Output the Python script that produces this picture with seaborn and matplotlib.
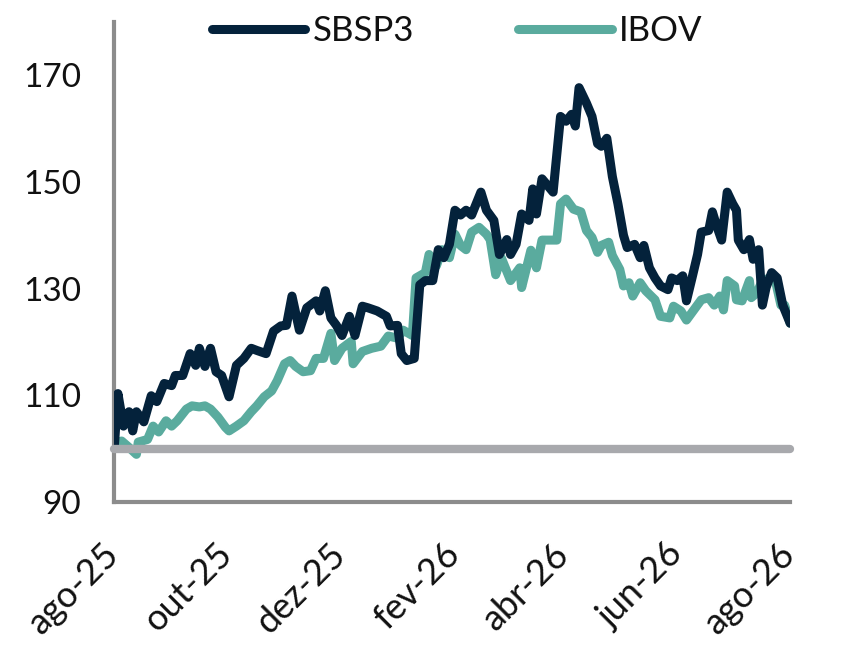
import matplotlib
matplotlib.use("Agg")
import matplotlib.pyplot as plt
from matplotlib.lines import Line2D
import pandas as pd
import seaborn as sns

# Data (base 100)

sbsp3_dates = [
    "2025-08-01", "2025-08-03", "2025-08-06", "2025-08-09", "2025-08-11", "2025-08-13",
    "2025-08-17", "2025-08-21", "2025-08-24", "2025-08-28", "2025-09-01", "2025-09-03",
    "2025-09-07", "2025-09-11", "2025-09-14", "2025-09-16", "2025-09-19", "2025-09-22",
    "2025-09-25", "2025-09-28", "2025-10-02", "2025-10-06", "2025-10-10", "2025-10-14",
    "2025-10-17", "2025-10-22", "2025-10-26", "2025-10-30", "2025-11-02", "2025-11-05",
    "2025-11-09", "2025-11-13", "2025-11-18", "2025-11-20", "2025-11-23", "2025-11-26",
    "2025-11-29", "2025-12-02", "2025-12-06", "2025-12-09", "2025-12-13", "2025-12-16",
    "2025-12-21", "2025-12-26", "2025-12-28", "2026-01-01", "2026-01-03", "2026-01-06",
    "2026-01-10", "2026-01-13", "2026-01-16", "2026-01-20", "2026-01-23", "2026-01-26",
    "2026-01-29", "2026-02-01", "2026-02-04", "2026-02-07", "2026-02-10", "2026-02-15",
    "2026-02-18", "2026-02-22", "2026-02-25", "2026-03-01", "2026-03-03", "2026-03-06",
    "2026-03-09", "2026-03-13", "2026-03-15", "2026-03-17", "2026-03-20", "2026-03-26",
    "2026-03-30", "2026-04-02", "2026-04-05", "2026-04-07", "2026-04-09", "2026-04-13",
    "2026-04-16", "2026-04-19", "2026-04-21", "2026-04-24", "2026-04-27", "2026-04-30",
    "2026-05-03", "2026-05-05", "2026-05-09", "2026-05-12", "2026-05-14", "2026-05-17",
    "2026-05-20", "2026-05-23", "2026-05-27", "2026-05-29", "2026-06-01", "2026-06-04",
    "2026-06-06", "2026-06-09", "2026-06-12", "2026-06-14", "2026-06-18", "2026-06-20",
    "2026-06-22", "2026-06-25", "2026-06-28", "2026-07-01", "2026-07-03", "2026-07-04",
    "2026-07-07", "2026-07-10", "2026-07-12", "2026-07-15", "2026-07-17", "2026-07-19",
    "2026-07-22", "2026-07-25", "2026-07-28", "2026-08-01",
]
sbsp3_values = [
    100.0, 110.3, 104.2, 106.9, 103.3, 106.9,
    105.0, 109.9, 108.8, 112.2, 111.8, 113.7,
    113.7, 117.8, 115.6, 118.8, 115.4, 118.8,
    114.4, 113.7, 109.7, 115.6, 116.9, 118.8,
    118.4, 117.8, 122.0, 123.0, 123.1, 128.6,
    122.2, 126.4, 127.7, 125.8, 129.6, 124.5,
    123.1, 121.2, 124.8, 121.2, 126.7, 126.4,
    125.8, 124.8, 123.0, 123.1, 117.8, 116.5,
    116.9, 130.7, 131.5, 131.5, 137.3, 135.8,
    138.3, 144.7, 143.8, 144.7, 143.8, 148.1,
    144.7, 142.8, 136.4, 139.2, 136.4, 138.3,
    144.0, 142.8, 148.7, 144.0, 150.6, 148.1,
    162.3, 161.4, 162.7, 160.5, 167.7, 164.8,
    162.3, 157.2, 156.7, 158.2, 151.0, 145.9,
    140.0, 137.7, 138.3, 135.8, 138.1, 133.9,
    132.0, 130.5, 129.8, 132.0, 131.5, 132.4,
    127.7, 132.0, 136.4, 140.6, 140.9, 144.4,
    142.1, 139.1, 148.1, 145.9, 144.7, 139.1,
    137.3, 139.2, 135.5, 137.3, 126.9, 130.2,
    133.0, 132.0, 126.9, 123.5,
]

ibov_dates = [
    "2025-08-01", "2025-08-03", "2025-08-05", "2025-08-09", "2025-08-13", "2025-08-14",
    "2025-08-19", "2025-08-22", "2025-08-25", "2025-08-29", "2025-09-01", "2025-09-04",
    "2025-09-09", "2025-09-12", "2025-09-16", "2025-09-19", "2025-09-22", "2025-09-26",
    "2025-09-30", "2025-10-02", "2025-10-06", "2025-10-10", "2025-10-14", "2025-10-17",
    "2025-10-21", "2025-10-25", "2025-10-28", "2025-11-01", "2025-11-04", "2025-11-07",
    "2025-11-11", "2025-11-15", "2025-11-18", "2025-11-22", "2025-11-26", "2025-11-28",
    "2025-12-02", "2025-12-07", "2025-12-08", "2025-12-13", "2025-12-18", "2025-12-23",
    "2025-12-27", "2026-01-01", "2026-01-04", "2026-01-09", "2026-01-11", "2026-01-16",
    "2026-01-18", "2026-01-22", "2026-01-25", "2026-01-29", "2026-02-01", "2026-02-04",
    "2026-02-07", "2026-02-10", "2026-02-14", "2026-02-18", "2026-02-20", "2026-02-23",
    "2026-02-26", "2026-03-03", "2026-03-08", "2026-03-09", "2026-03-14", "2026-03-17",
    "2026-03-20", "2026-03-28", "2026-03-30", "2026-04-02", "2026-04-06", "2026-04-10",
    "2026-04-13", "2026-04-16", "2026-04-19", "2026-04-21", "2026-04-25", "2026-04-27",
    "2026-05-01", "2026-05-03", "2026-05-06", "2026-05-08", "2026-05-12", "2026-05-15",
    "2026-05-20", "2026-05-23", "2026-05-28", "2026-05-30", "2026-06-03", "2026-06-06",
    "2026-06-10", "2026-06-14", "2026-06-18", "2026-06-21", "2026-06-24", "2026-06-26",
    "2026-06-28", "2026-07-02", "2026-07-03", "2026-07-06", "2026-07-10", "2026-07-11",
    "2026-07-14", "2026-07-17", "2026-07-21", "2026-07-24", "2026-07-27", "2026-07-29",
    "2026-08-01",
]
ibov_values = [
    100.0, 101.2, 101.4, 100.2, 98.9, 101.2,
    101.7, 104.2, 103.1, 105.2, 104.2, 105.2,
    107.4, 108.0, 107.8, 108.0, 107.4, 105.9,
    104.0, 103.3, 104.2, 105.2, 106.9, 108.0,
    109.7, 110.8, 112.7, 115.9, 116.5, 115.4,
    114.4, 114.6, 116.9, 116.9, 121.6, 116.5,
    118.8, 120.1, 115.9, 118.2, 118.8, 119.2,
    121.1, 120.7, 122.2, 121.2, 132.0, 133.0,
    136.4, 134.3, 137.3, 135.8, 140.2, 138.1,
    137.3, 140.6, 141.5, 140.2, 139.2, 132.6,
    135.8, 131.5, 133.9, 130.2, 137.2, 133.9,
    139.1, 139.1, 145.9, 146.8, 144.9, 144.4,
    140.9, 139.6, 136.8, 138.1, 138.7, 136.2,
    133.6, 130.5, 131.1, 128.6, 131.1, 129.6,
    127.9, 124.8, 124.5, 126.7, 125.8, 124.1,
    126.0, 127.9, 128.3, 126.9, 128.6, 126.0,
    131.5, 130.5, 127.9, 127.7, 131.5, 128.3,
    129.2, 131.5, 132.0, 131.5, 126.9, 126.9,
    123.5,
]

tick_dates = ["2025-08-01", "2025-10-01", "2025-12-01", "2026-02-01",
              "2026-04-01", "2026-06-01", "2026-08-01"]
tick_labels = ["ago-25", "out-25", "dez-25", "fev-26", "abr-26", "jun-26", "ago-26"]
y_ticks = [90, 110, 130, 150, 170]

NAVY = "#04223b"
TEAL = "#5aab9e"
GREY_BASE = "#a8a9ad"
GREY_SPINE = "#8c8c8c"
TEXT = "#111111"

sns.set_style("white")
plt.rcParams["font.family"] = ["Lato", "DejaVu Sans"]

df_sbsp3 = pd.DataFrame({"date": pd.to_datetime(sbsp3_dates), "value": sbsp3_values})
df_ibov = pd.DataFrame({"date": pd.to_datetime(ibov_dates), "value": ibov_values})

fig = plt.figure(figsize=(8.46, 6.5), dpi=100)
ax = fig.add_axes([0.135, 0.228, 0.799, 0.738])

line_kw = dict(linewidth=6.5, solid_joinstyle="round", solid_capstyle="round")
sns.lineplot(data=df_sbsp3, x="date", y="value", color=NAVY, ax=ax, zorder=3, **line_kw)
sns.lineplot(data=df_ibov, x="date", y="value", color=TEAL, ax=ax, zorder=2, **line_kw)

ax.axhline(100, color=GREY_BASE, linewidth=6, zorder=4, clip_on=False)

ax.set_xlim(pd.Timestamp("2025-08-01"), pd.Timestamp("2026-08-01"))
ax.set_ylim(90, 180)
ax.set_yticks(y_ticks)
ax.set_xticks(pd.to_datetime(tick_dates))
ax.set_xticklabels(tick_labels, rotation=45, ha="right", va="center",
                   rotation_mode="anchor")
ax.set_xlabel("")
ax.set_ylabel("")

ax.tick_params(axis="y", length=0, pad=24, labelsize=24, labelcolor=TEXT)
ax.tick_params(axis="x", length=0, pad=34, labelsize=26, labelcolor=TEXT)

for side in ["top", "right"]:
    ax.spines[side].set_visible(False)
for side in ["left", "bottom"]:
    ax.spines[side].set_color(GREY_SPINE)
    ax.spines[side].set_linewidth(3)

handles = [
    Line2D([0], [0], color=NAVY, linewidth=6.5, solid_capstyle="round"),
    Line2D([0], [0], color=TEAL, linewidth=6.5, solid_capstyle="round"),
]
leg = ax.legend(handles, ["SBSP3", "IBOV"], loc="center", bbox_to_anchor=(0.507, 0.981),
                ncol=2, frameon=False, fontsize=25, handlelength=2.7,
                handletextpad=0.2, columnspacing=3.0)
for t in leg.get_texts():
    t.set_color(TEXT)

fig.savefig("out.png", dpi=100)
